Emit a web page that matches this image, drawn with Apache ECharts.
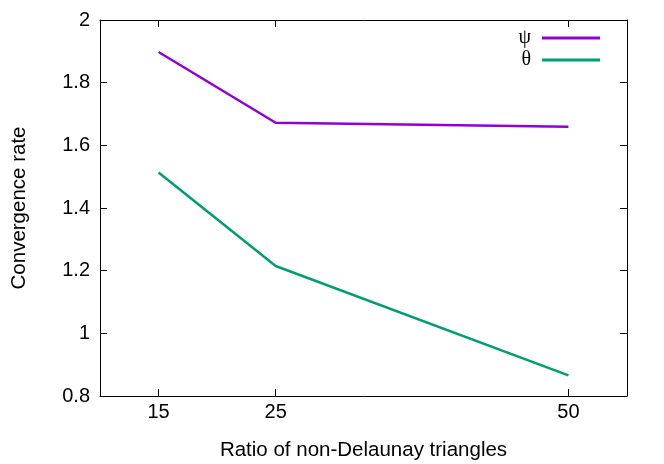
<!DOCTYPE html>
<html>
<head>
<meta charset="utf-8">
<script src="https://cdn.jsdelivr.net/npm/echarts@6/dist/echarts.min.js"></script>
<style>html,body{margin:0;padding:0;background:#fff}#c{width:664px;height:464px}</style>
</head>
<body>
<div id="c"></div>
<script>
var xValues = [15, 25, 50];
var psiValues = [1.898, 1.672, 1.659];
var thetaValues = [1.513, 1.215, 0.866];
var xTicks = [15, 25, 50];
var seriesNames = ['ψ', 'θ'];
var FONT = 'Liberation Sans';

function pairs(xs, ys) { return xs.map(function (x, i) { return [x, ys[i]]; }); }

var chart = echarts.init(document.getElementById('c'));
var tickStyle = { show: true, inside: true, length: 7, lineStyle: { color: '#000', width: 1 } };
chart.setOption({
  animation: false,
  backgroundColor: '#fff',
  grid: { left: 100, right: 37, top: 20, bottom: 68, containLabel: false, outerBoundsMode: 'none' },
  xAxis: [{
    type: 'value', min: 10, max: 55,
    name: 'Ratio of non-Delaunay triangles', nameLocation: 'middle', nameGap: 44,
    nameTextStyle: { fontFamily: FONT, fontSize: 20.5, color: '#000' },
    axisLine: { show: true, onZero: false, lineStyle: { color: '#000', width: 1 } },
    axisTick: Object.assign({ customValues: xTicks }, tickStyle),
    axisLabel: { customValues: xTicks, fontFamily: FONT, fontSize: 20, color: '#000', margin: 6 },
    splitLine: { show: false }
  }, {
    type: 'value', min: 10, max: 55, position: 'top',
    axisLine: { show: true, onZero: false, lineStyle: { color: '#000', width: 1 } },
    axisTick: Object.assign({ customValues: xTicks }, tickStyle),
    axisLabel: { show: false }, splitLine: { show: false }
  }],
  yAxis: [{
    type: 'value', min: 0.8, max: 2, interval: 0.2,
    name: 'Convergence rate', nameLocation: 'middle', nameGap: 70, nameRotate: 90,
    nameTextStyle: { fontFamily: FONT, fontSize: 20.5, color: '#000' },
    axisLine: { show: true, onZero: false, lineStyle: { color: '#000', width: 1 } },
    axisTick: tickStyle,
    axisLabel: { fontFamily: FONT, fontSize: 20, color: '#000', margin: 10,
      formatter: function (v) { return String(Math.round(v * 10) / 10); } },
    splitLine: { show: false }
  }, {
    type: 'value', min: 0.8, max: 2, interval: 0.2, position: 'right',
    axisLine: { show: true, onZero: false, lineStyle: { color: '#000', width: 1 } },
    axisTick: tickStyle, axisLabel: { show: false }, splitLine: { show: false }
  }],
  legend: {
    orient: 'vertical', right: 59, top: 22, align: 'right',
    itemWidth: 58, itemHeight: 3, itemGap: 0, icon: 'rect',
    textStyle: { fontFamily: 'Liberation Serif', fontSize: 20, color: '#000', lineHeight: 22, padding: [0, 6, 0, 0] },
    data: seriesNames
  },
  series: [{
    name: seriesNames[0], type: 'line', data: pairs(xValues, psiValues),
    showSymbol: false, symbol: 'none', color: '#9400d3', lineStyle: { width: 2.5, color: '#9400d3' }
  }, {
    name: seriesNames[1], type: 'line', data: pairs(xValues, thetaValues),
    showSymbol: false, symbol: 'none', color: '#009e73', lineStyle: { width: 2.5, color: '#009e73' }
  }]
});
</script>
</body>
</html>
